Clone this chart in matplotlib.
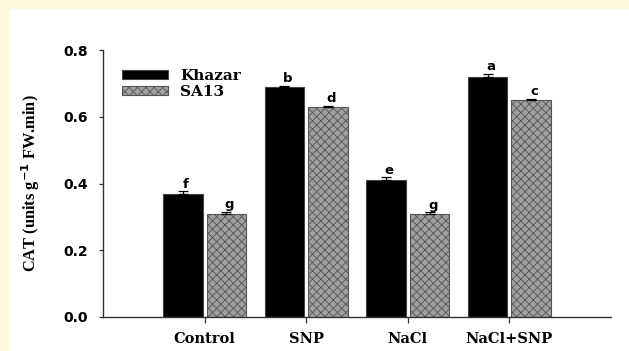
import matplotlib
matplotlib.use("Agg")
import matplotlib.pyplot as plt
from matplotlib.patches import Rectangle
import numpy as np

# Catalase activity by treatment for two cultivars
treatments = ["Control", "SNP", "NaCl", "NaCl+SNP"]
khazar = [0.37, 0.69, 0.41, 0.72]
khazar_err = [0.007, 0.003, 0.008, 0.008]
sa13 = [0.31, 0.63, 0.31, 0.65]
sa13_err = [0.005, 0.003, 0.004, 0.003]
khazar_letters = ["f", "b", "e", "a"]
sa13_letters = ["g", "d", "g", "c"]
yticks = [0.0, 0.2, 0.4, 0.6, 0.8]

plt.rcParams["hatch.color"] = "#1a1a1a"
plt.rcParams["hatch.linewidth"] = 0.6

W, H = 629, 351
fig = plt.figure(figsize=(W / 100, H / 100), dpi=100)
fig.patch.set_facecolor("#FFF9DC")
fig.patches.append(Rectangle((10 / W, 0), 1, (H - 9) / H, transform=fig.transFigure,
                             facecolor="white", edgecolor="none", zorder=-5))

ax = fig.add_axes([103 / W, 1 - 317 / H, (611 - 103) / W, (317 - 50) / H])
ax.set_zorder(1)
ax.set_facecolor("white")

x = np.arange(len(treatments))
width = 0.39
off = 0.215

ax.bar(x - off, khazar, width, color="black", edgecolor="#444444", linewidth=0.8,
       label="Khazar", zorder=2)
ax.bar(x + off, sa13, width, color="#a0a0a0", edgecolor="#555555", linewidth=0.8,
       hatch="xxxx", label="SA13", zorder=2)

ax.errorbar(x - off, khazar, yerr=[np.zeros(len(x)), khazar_err], fmt="none",
            ecolor="black", elinewidth=0.9, capsize=3.5, capthick=0.9, zorder=3)
ax.errorbar(x + off, sa13, yerr=[np.zeros(len(x)), sa13_err], fmt="none",
            ecolor="black", elinewidth=0.9, capsize=3.5, capthick=0.9, zorder=3)

for xi, v, e, t in zip(x - off, khazar, khazar_err, khazar_letters):
    ax.text(xi + 0.03, v + e + 0.002, t, ha="center", va="bottom",
            fontsize=9.5, fontweight="bold", family="DejaVu Sans")
for xi, v, e, t in zip(x + off, sa13, sa13_err, sa13_letters):
    ax.text(xi + 0.03, v + e + 0.002, t, ha="center", va="bottom",
            fontsize=9.5, fontweight="bold", family="DejaVu Sans")

ax.set_xlim(-1, 4)
ax.set_ylim(0, 0.8)
ax.set_yticks(yticks)
ax.set_yticklabels([f"{t:.1f}" for t in yticks], fontsize=10, fontweight="bold",
                   family="DejaVu Sans")
ax.set_xticks(x)
ax.set_xticklabels(treatments, fontsize=10.5, fontweight="bold", family="DejaVu Serif")
ax.tick_params(axis="y", length=3, width=0.9, pad=8, colors="#333333", labelcolor="black")
ax.tick_params(axis="x", length=4, width=0.9, pad=7, colors="#333333", labelcolor="black")

for s in ["top", "right"]:
    ax.spines[s].set_visible(False)
for s in ["left", "bottom"]:
    ax.spines[s].set_color("#333333")
    ax.spines[s].set_linewidth(1.0)

ax.set_ylabel(r"CAT (units g$^{\mathbf{-1}}$ FW.min)", fontsize=11.8, fontweight="bold",
              family="Liberation Serif")
ax.yaxis.set_label_coords(-0.12, 0.5)

leg = ax.legend(loc="upper left", bbox_to_anchor=(0.037, 0.93), frameon=False,
                prop={"family": "DejaVu Serif", "weight": "bold", "size": 11},
                handlelength=3.0, handleheight=0.5, handletextpad=0.8,
                labelspacing=0.15, borderpad=0, borderaxespad=0)

fig.savefig("out.png", dpi=100, facecolor=fig.get_facecolor())
